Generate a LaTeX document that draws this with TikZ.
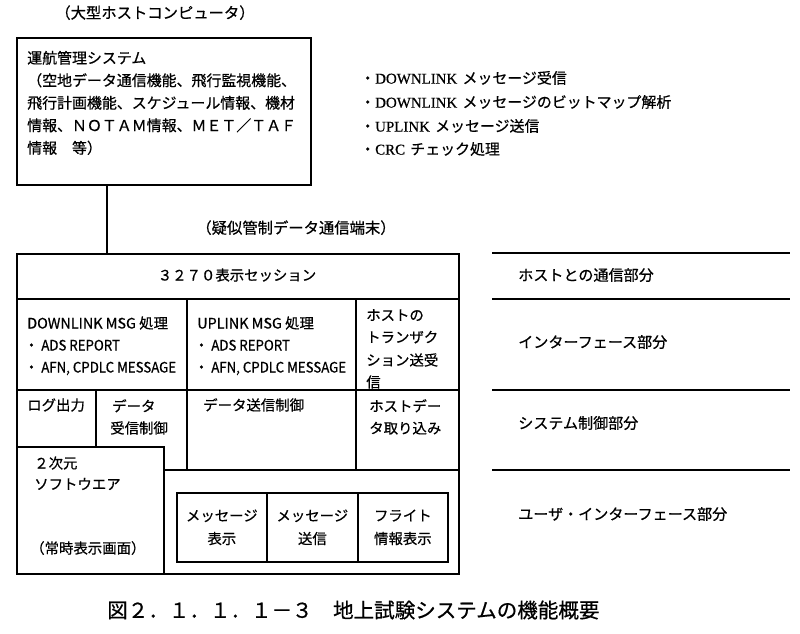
\documentclass[tikz,border=0pt]{standalone}
\usepackage{fontspec}
\setmainfont[FakeBold=0.6]{Noto Sans CJK JP}
\newfontfamily\lserif[FakeBold=0.6]{Liberation Serif}
\newfontfamily\cnd[FakeStretch=0.92,FakeBold=0.6]{Noto Sans CJK JP}
\usetikzlibrary{calc}
\newcommand{\fA}{\fontsize{10.8}{13}\selectfont}
\newcommand{\fB}{\fontsize{11.2}{13}\selectfont}
\newcommand{\fC}{\fontsize{11.3}{13}\selectfont}
\newcommand{\fD}{\fontsize{15.4}{18}\selectfont}
\newcommand{\fE}{\fontsize{10.8}{17.25}\selectfont}
\newcommand{\fT}{\fontsize{11.5}{13}\selectfont}
\begin{document}
\begin{tikzpicture}[x=0.75pt,y=-0.75pt,
  frame/.style={draw, line width=1.3pt, inner sep=0pt, anchor=north west},
  rule/.style={line width=1.3pt},
  txt/.style={inner sep=0pt, anchor=base west, font=\fA},
  txtB/.style={inner sep=0pt, anchor=base west, font=\fB},
  txtC/.style={inner sep=0pt, anchor=base west, font=\fC},
  ctxt/.style={inner sep=0pt, anchor=base, font=\fA},
  ttxt/.style={inner sep=0pt, anchor=base, font=\fT},
  cell/.style={frame, align=center, font=\fE, minimum height=51.75pt}]
\useasboundingbox (0,0) rectangle (800,633);
\fill[white] (0,0) rectangle (800,633);

% host computer box
\node[ttxt] (title) at (155,18.5) {（大型ホストコンピュータ）};
\node[frame, minimum width=220.5pt, minimum height=110.25pt] (host) at (16,37) {};
\node[txtB] (h1) at (27,63.5) {運航管理システム};
\node[txtB] (h2) at (27,86) {（空地データ通信機能、飛行監視機能、};
\node[txtB] (h3) at (27,108.5) {飛行計画機能、スケジュール情報、機材};
\node[txtB] (h4) at (27,131) {情報、ＮＯＴＡＭ情報、ＭＥＴ／ＴＡＦ};
\node[txtB] (h5) at (27,153.5) {情報　等）};

% bullets
\node[txtB] (b1) at (360,83.6) {・{\lserif DOWNLINK}\hspace{0.35em}メッセージ受信};
\node[txtB] (b2) at (360,107.6) {・{\lserif DOWNLINK}\hspace{0.35em}メッセージのビットマップ解析};
\node[txtB] (b3) at (360,131.6) {・{\lserif UPLINK}\hspace{0.35em}メッセージ送信};
\node[txtB] (b4) at (360,154.6) {・{\lserif CRC}\hspace{0.35em}チェック処理};

% terminal box
\node[ttxt] (termlabel) at (296,233.5) {（疑似管制データ通信端末）};
\node[frame, minimum width=331.5pt, minimum height=240pt] (term) at (16,253) {};
\draw[rule] ($(host.south west)+(91,0)$) -- ($(term.north west)+(91,0)$);

\draw[rule] (16,299) -- (458,299);
\draw[rule] (16,390) -- (458,390);
\draw[rule] (187,299) -- (187,470);
\draw[rule] (356,299) -- (356,470);
\draw[rule] (96,390) -- (96,447);
\draw[rule] (16,447) -| (164,573);
\draw[rule] (164,470) -- (458,470);

\node[ctxt] (sess) at (237,280.5) {３２７０表示セッション};

\node[txt] (d1) at (27,328.5) {DOWNLINK MSG 処理};
\node[txt] (d2) at (24,350.5) {・\hspace{2pt}{\cnd ADS REPORT}};
\node[txt] (d3) at (24,372.5) {・\hspace{2pt}{\cnd AFN, CPDLC MESSAGE}};
\node[txt] (u1) at (197,328.5) {UPLINK MSG 処理};
\node[txt] (u2) at (194,350.5) {・\hspace{2pt}{\cnd ADS REPORT}};
\node[txt] (u3) at (194,372.5) {・\hspace{2pt}{\cnd AFN, CPDLC MESSAGE}};
\node[txt] (t1) at (366,320.5) {ホストの};
\node[txt] (t2) at (366,342.5) {トランザク};
\node[txt] (t3) at (366,365.5) {ション送受};
\node[txt] (t4) at (366,387.5) {信};

\node[txt] (log) at (27,410.5) {ログ出力};
\node[txt] (r1) at (112,411.5) {データ};
\node[txt] (r2) at (110,433.5) {受信制御};
\node[txt] (snd) at (203,410.5) {データ送信制御};
\node[txt] (hd1) at (369,411.5) {ホストデー};
\node[txt] (hd2) at (369,433.5) {タ取り込み};

\node[txt] (s1) at (34,468.5) {２次元};
\node[txt] (s2) at (34,489.5) {ソフトウエア};
\node[txt] (s3) at (30,553.5) {（常時表示画面）};

\node[cell, minimum width=67.5pt] (c1) at (176,492) {メッセージ\\表示};
\node[cell, minimum width=68.25pt] (c2) at (266,492) {メッセージ\\送信};
\node[cell, minimum width=67.5pt] (c3) at (357,492) {フライト\\情報表示};

% layer labels
\draw[rule] (492,253) -- (790,253);
\draw[rule] (492,299) -- (790,299);
\draw[rule] (492,390) -- (790,390);
\draw[rule] (492,470) -- (790,470);
\node[txtC] (l1) at (518,280.7) {ホストとの通信部分};
\node[txtC] (l2) at (518,347.7) {インターフェース部分};
\node[txtC] (l3) at (518,428.7) {システム制御部分};
\node[txtC] (l4) at (518,519.7) {ユーザ・インターフェース部分};

% caption
\node[inner sep=0pt, anchor=base west, font=\fD] (cap) at (107,617.8) {図２．１．１．１－３　地上試験システムの機能概要};
\end{tikzpicture}
\end{document}
